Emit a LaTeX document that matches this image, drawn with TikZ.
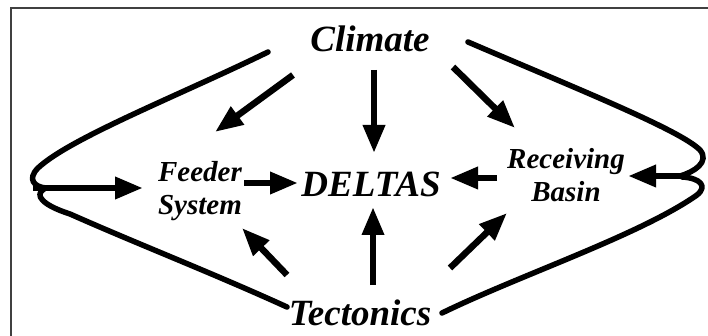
\documentclass[tikz,border=0pt]{standalone}
\usepackage{fontspec}
\setmainfont{Liberation Serif}
\usetikzlibrary{arrows.meta}
\begin{document}
\begin{tikzpicture}[x=1pt,y=-1pt,
  big/.style={font=\fontsize{37}{40}\selectfont\bfseries\itshape, inner sep=0pt, anchor=base},
  small/.style={font=\fontsize{29}{33}\selectfont\bfseries\itshape, inner sep=0pt, align=center, anchor=base},
  arr/.style={line width=6.5pt, -{Triangle[length=28pt,width=21pt]}},
  loopline/.style={line width=5.5pt, line cap=round, line join=round},
  frameline/.style={line width=1.5pt, draw=black!75}]
\useasboundingbox (0,0) rectangle (708,336);
\draw[frameline] (11,340) -- (11,8) -- (710,8);

% labels
\node[big] (climate) at (370,52) {Climate};
\node[big] (deltas) at (371,197) {DELTAS};
\node[big] (tectonics) at (360,325) {Tectonics};
\node[small] (feeder) at (200,215) {Feeder\\System};
\node[small] (receiving) at (566,202) {Receiving\\Basin};

% arrow end points
\coordinate (c1a) at (293,75);  \coordinate (c1b) at (215,132);
\coordinate (c2a) at (374,70);  \coordinate (c2b) at (374,153);
\coordinate (c3a) at (453,67);  \coordinate (c3b) at (515,128);
\coordinate (fda) at (244,183); \coordinate (fdb) at (298,183);
\coordinate (rda) at (497,178); \coordinate (rdb) at (450,178);
\coordinate (t1a) at (373,285); \coordinate (t1b) at (373,207);
\coordinate (t2a) at (287,275); \coordinate (t2b) at (242,228);
\coordinate (t3a) at (450,268); \coordinate (t3b) at (507,213);
\coordinate (la) at (33,188);   \coordinate (lb) at (143,188);
\coordinate (ra) at (686,176);  \coordinate (rb) at (628,176);

\draw[arr] (c1a) -- (c1b);
\draw[arr] (c2a) -- (c2b);
\draw[arr] (c3a) -- (c3b);
\draw[arr] (fda) -- (fdb);
\draw[arr] (rda) -- (rdb);
\draw[arr] (t1a) -- (t1b);
\draw[arr] (t2a) -- (t2b);
\draw[arr] (t3a) -- (t3b);
\draw[arr] (la) -- (lb);
\draw[arr] (ra) -- (rb);

% left loop
\coordinate (lu) at (268,52);
\coordinate (ll) at (287,307);
\draw[loopline] (lu) .. controls (180,95) and (70,138) .. (38,168)
  .. controls (27,179) and (34,187) .. (46,188);
\draw[loopline] (44,189) .. controls (34,195) and (42,205) .. (70,214)
  .. controls (140,245) and (210,272) .. (ll);

% right loop
\coordinate (ru) at (468,42);
\coordinate (rl) at (442,313);
\draw[loopline] (ru) .. controls (580,90) and (680,130) .. (700,150)
  .. controls (710,162) and (694,172) .. (680,176);
\draw[loopline] (682,177) .. controls (700,178) and (708,186) .. (697,195)
  .. controls (640,235) and (520,275) .. (rl);
\end{tikzpicture}
\end{document}
